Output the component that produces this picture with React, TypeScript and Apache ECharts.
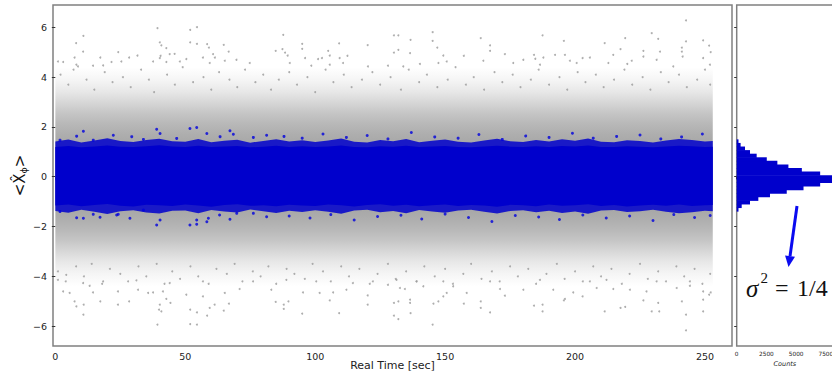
import React, { useEffect, useRef } from "react";
import * as echarts from "echarts";

// ---------- data ----------
const xTicks = [0, 50, 100, 150, 200, 250];
const yTicks = [-6, -4, -2, 0, 2, 4, 6];
const histTicks = [0, 2500, 5000, 7500];

// sample times for band envelopes (sec)
const bandTimes = [
  0, 5, 10, 15, 20, 25, 30, 35, 40, 45,
  50, 55, 60, 65, 70, 75, 80, 85, 90, 95,
  100, 105, 110, 115, 120, 125, 130, 135, 140, 145,
  150, 155, 160, 165, 170, 175, 180, 185, 190, 195,
  200, 205, 210, 215, 220, 225, 230, 235, 240, 245,
  250, 253,
];

// dense blue (squeezed) core edges
const blueCoreUpper = [
  1.20, 1.24, 1.18, 1.22, 1.26, 1.21, 1.19, 1.23, 1.27, 1.22,
  1.20, 1.25, 1.19, 1.22, 1.24, 1.18, 1.21, 1.25, 1.20, 1.23,
  1.19, 1.22, 1.26, 1.20, 1.18, 1.23, 1.21, 1.25, 1.19, 1.22,
  1.24, 1.20, 1.18, 1.22, 1.25, 1.21, 1.19, 1.23, 1.20, 1.24,
  1.22, 1.26, 1.20, 1.19, 1.23, 1.21, 1.18, 1.22, 1.25, 1.23,
  1.20, 1.21,
];
const blueCoreLower = [
  -1.16, -1.12, -1.19, -1.14, -1.10, -1.17, -1.20, -1.13, -1.15, -1.18,
  -1.12, -1.16, -1.21, -1.14, -1.11, -1.17, -1.15, -1.19, -1.13, -1.16,
  -1.18, -1.12, -1.15, -1.20, -1.14, -1.11, -1.17, -1.13, -1.19, -1.15,
  -1.12, -1.18, -1.14, -1.16, -1.21, -1.13, -1.15, -1.19, -1.12, -1.17,
  -1.15, -1.11, -1.18, -1.14, -1.20, -1.16, -1.13, -1.17, -1.12, -1.18,
  -1.15, -1.14,
];
const blueFringeUpper = [
  1.42, 1.50, 1.38, 1.46, 1.55, 1.44, 1.40, 1.48, 1.53, 1.43,
  1.41, 1.52, 1.39, 1.45, 1.49, 1.37, 1.44, 1.51, 1.42, 1.47,
  1.40, 1.46, 1.54, 1.41, 1.38, 1.48, 1.43, 1.52, 1.39, 1.45,
  1.50, 1.41, 1.38, 1.46, 1.53, 1.43, 1.40, 1.48, 1.42, 1.51,
  1.45, 1.54, 1.41, 1.39, 1.47, 1.44, 1.38, 1.46, 1.52, 1.48,
  1.42, 1.44,
];
const blueFringeLower = [
  -1.38, -1.45, -1.33, -1.41, -1.50, -1.39, -1.35, -1.44, -1.48, -1.37,
  -1.36, -1.47, -1.34, -1.40, -1.44, -1.32, -1.39, -1.46, -1.37, -1.42,
  -1.35, -1.41, -1.49, -1.36, -1.33, -1.43, -1.38, -1.47, -1.34, -1.40,
  -1.45, -1.36, -1.33, -1.41, -1.48, -1.38, -1.35, -1.43, -1.37, -1.46,
  -1.40, -1.49, -1.36, -1.34, -1.42, -1.39, -1.33, -1.41, -1.47, -1.43,
  -1.37, -1.39,
];

// outer envelope of the grey (vacuum) cloud
const grayEnvelopeTimes = [0, 253];
const grayEnvelopeUpper = [4.4, 4.4];
const grayEnvelopeLower = [-4.4, -4.4];

// grey points in the thinning part of the cloud [time, value]
const grayMidTop = [
  [2, 4.1], [5, 3.7], [7, 4.3], [12, 3.9], [15, 3.5], [19, 4.2], [22, 3.8], [26, 4.0], [29, 3.6], [33, 4.3],
  [36, 3.9], [38, 3.4], [43, 4.1], [46, 3.7], [49, 4.4], [53, 3.8], [57, 4.0], [60, 3.5], [63, 4.2], [67, 3.9],
  [70, 3.6], [73, 4.3], [77, 3.8], [80, 4.1], [83, 3.5], [86, 3.9], [90, 4.2], [93, 3.7], [97, 4.0], [100, 3.4],
  [104, 4.3], [107, 3.8], [111, 4.1], [114, 3.6], [118, 3.9], [122, 4.2], [125, 3.7], [129, 4.0], [133, 3.5], [136, 4.3],
  [140, 3.8], [143, 4.1], [147, 3.6], [151, 3.9], [154, 4.4], [158, 3.7], [161, 4.0], [165, 3.5], [169, 4.2], [172, 3.8],
  [176, 4.1], [179, 3.6], [183, 3.9], [186, 4.3], [190, 3.7], [194, 4.0], [197, 3.5], [201, 4.2], [204, 3.8], [208, 4.1],
  [211, 3.6], [215, 3.9], [219, 4.3], [222, 3.7], [226, 4.0], [229, 3.5], [233, 4.2], [236, 3.8], [240, 4.1], [243, 3.6],
  [247, 3.9], [250, 4.3], [252, 3.7],
];
const grayMidBottom = [
  [1, -3.8], [4, -4.2], [8, -3.6], [11, -4.0], [14, -3.5], [18, -4.3], [21, -3.7], [25, -3.9], [28, -4.2], [32, -3.6],
  [35, -4.0], [39, -3.5], [42, -4.3], [45, -3.8], [48, -4.1], [52, -3.6], [55, -4.0], [59, -4.3], [62, -3.7], [66, -3.9],
  [69, -3.5], [72, -4.2], [76, -3.8], [79, -4.0], [82, -3.6], [85, -4.3], [89, -3.7], [92, -3.9], [96, -4.1], [99, -3.5],
  [103, -3.8], [106, -4.2], [110, -3.6], [113, -4.0], [117, -3.7], [121, -4.3], [124, -3.9], [128, -3.5], [131, -4.1], [135, -3.8],
  [139, -4.2], [142, -3.6], [146, -4.0], [150, -3.7], [153, -4.3], [157, -3.9], [160, -3.5], [164, -4.1], [168, -3.8], [171, -4.2],
  [175, -3.6], [178, -4.0], [182, -3.7], [185, -4.3], [189, -3.9], [193, -3.5], [196, -4.1], [200, -3.8], [203, -4.2], [207, -3.6],
  [210, -4.0], [214, -3.7], [218, -4.3], [221, -3.9], [225, -3.5], [228, -4.1], [232, -3.8], [235, -4.2], [239, -3.6], [242, -4.0],
  [246, -3.7], [249, -4.3], [252, -3.9],
];

// sparse grey points [time, value]
const grayOutliersTop = [
  [39.3, 5.97], [51.9, 5.9], [54.5, 6.01], [10.8, 5.66], [8.0, 5.37], [40.2, 5.4], [40.8, 5.28], [51.9, 5.4], [54.5, 5.34],
  [87.7, 5.7], [95.0, 5.34], [95.0, 5.14], [109.2, 5.36], [120.2, 5.29], [10.7, 5.03], [24.2, 5.01], [42.7, 5.17], [58.4, 5.33],
  [59.1, 5.19], [64.8, 5.3], [66.7, 5.03], [84.8, 5.06], [87.4, 5.13], [88.4, 4.99], [105.0, 5.06], [105.6, 4.87], [7.4, 4.79],
  [17.3, 4.79], [28.4, 4.79], [31.6, 4.87], [40.5, 4.86], [40.2, 4.77], [44.0, 4.93], [45.9, 4.94], [50.4, 4.73], [56.8, 4.79],
  [60.7, 4.93], [61.4, 4.79], [69.7, 4.7], [89.4, 4.87], [96.1, 4.77], [101.1, 4.73], [102.6, 4.77], [109.4, 4.77], [112.4, 4.86],
  [1.0, 4.63], [3.0, 4.61], [8.1, 4.5], [8.7, 4.43], [14.5, 4.46], [18.4, 4.47], [21.6, 4.61], [25.4, 4.63], [37.6, 4.63],
  [42.7, 4.61], [47.9, 4.63], [59.4, 4.57], [65.2, 4.66], [74.8, 4.57], [90.2, 4.57], [98.5, 4.46], [105.6, 4.5], [110.7, 4.57],
  [120.3, 4.43], [128.0, 4.46],
  [130.3, 5.68], [132.0, 5.68], [136.7, 5.5], [145.2, 5.81], [145.2, 5.46], [147.0, 5.19], [130.3, 4.99], [132.0, 5.1], [136.5, 4.97],
  [163.7, 5.57], [167.3, 5.28], [167.3, 5.06], [187.5, 5.68], [195.7, 5.46], [211.4, 5.37], [217.5, 5.13], [219.3, 5.57], [229.5, 5.77],
  [232.0, 5.54], [242.7, 6.28], [242.7, 5.44], [249.3, 5.48], [251.6, 5.27], [241.1, 5.19], [241.1, 5.03], [241.4, 4.83], [232.7, 5.03],
  [226.3, 5.06], [149.3, 4.87], [157.2, 4.86], [173.0, 4.93], [184.2, 4.9], [184.7, 4.74], [187.8, 4.79], [192.3, 4.9], [196.1, 4.9],
  [198.0, 4.66], [202.9, 4.77], [205.7, 4.79], [214.7, 4.9], [221.8, 4.66], [226.3, 4.83], [231.4, 4.7], [249.3, 4.77], [252.2, 5.01],
  [251.9, 4.5], [150.6, 4.63], [147.4, 4.57], [164.7, 4.66], [180.1, 4.7], [140.3, 4.53], [133.9, 4.43], [176.2, 4.57], [186.5, 4.5],
  [200.6, 4.57], [212.8, 4.57], [237.8, 4.43], [220.1, 4.53],
];
const grayOutliersBottom = [
  [39.3, -5.94], [51.9, -5.92], [54.5, -5.94], [10.8, -5.54], [7.4, -5.01], [8.1, -5.21], [10.9, -5.14], [17.3, -5.01], [24.1, -5.14],
  [28.4, -5.01], [40.2, -5.14], [39.9, -5.34], [40.8, -5.41], [42.7, -4.91], [44.3, -5.07], [51.9, -5.34], [54.5, -5.45], [58.4, -5.58],
  [59.4, -5.27], [61.3, -5.14], [64.8, -5.38], [66.8, -5.1], [84.8, -5.03], [87.9, -5.14], [87.9, -5.31], [89.7, -5.01], [95.0, -5.5],
  [105.6, -4.97], [109.2, -5.48], [120.2, -4.77], [120.2, -5.14], [3.0, -4.61], [5.5, -4.67], [13.2, -4.38], [14.5, -4.65], [24.1, -4.61],
  [31.8, -4.54], [35.7, -4.67], [37.6, -4.65], [41.4, -4.61], [50.4, -4.74], [56.8, -4.81], [65.2, -4.67], [70.9, -4.51], [83.1, -4.54],
  [95.3, -4.65], [101.7, -4.67], [106.9, -4.65], [112.0, -4.54], [128.0, -4.34], [1.0, -4.14], [10.7, -4.27], [4.2, -3.94], [18.4, -4.2],
  [31.2, -4.16], [44.0, -4.27], [56.8, -4.2], [76.1, -4.2], [88.9, -4.14], [100.4, -4.2], [114.5, -4.27], [122.2, -4.2],
  [130.3, -5.07], [132.0, -5.01], [130.3, -5.58], [132.0, -5.72], [136.5, -4.94], [136.5, -5.07], [136.7, -5.48], [145.2, -5.94],
  [145.5, -5.1], [147.4, -5.01], [149.3, -4.81], [157.2, -5.1], [163.7, -5.01], [163.7, -5.27], [167.3, -5.45], [173.0, -4.78],
  [184.2, -5.18], [187.5, -5.14], [187.5, -5.41], [195.7, -4.97], [196.1, -4.91], [202.9, -4.81], [211.4, -5.41], [217.5, -5.27],
  [219.3, -5.23], [226.3, -4.97], [229.5, -5.41], [232.0, -5.07], [232.4, -5.41], [241.1, -5.01], [242.7, -5.54], [242.7, -6.17],
  [249.3, -5.41], [249.3, -4.94], [252.2, -4.65], [251.6, -4.74], [132.6, -4.47], [134.5, -4.51], [141.6, -4.4], [150.6, -4.67],
  [153.1, -4.4], [158.3, -4.67], [171.1, -4.51], [180.1, -4.54], [191.6, -4.54], [199.3, -4.65], [208.3, -4.47], [214.7, -4.51],
  [221.1, -4.54], [227.5, -4.61], [239.1, -4.47], [244.2, -4.38], [249.3, -4.61], [131.3, -4.14], [139.0, -4.2], [149.3, -4.2],
  [167.3, -4.2], [186.5, -4.14], [205.7, -4.2], [212.1, -4.14], [231.4, -4.2], [244.2, -4.2],
];

// scattered blue points on the edges of the squeezed band
const blueEdgePoints = [
  [10.8, 1.83], [8.2, 1.63], [22.3, 1.67], [29.4, 1.61], [39.0, 1.91], [40.3, 1.74], [51.8, 1.94], [54.4, 1.98], [58.3, 1.74],
  [63.4, 1.61], [68.5, 1.71], [76.2, 1.58], [81.3, 1.67], [1.8, 1.47], [14.6, 1.47], [33.9, 1.5], [46.7, 1.54], [67.2, 1.85],
  [88, 1.62], [95, 1.55], [103, 1.72], [112, 1.58], [120, 1.66], [128, 1.52], [137, 1.78], [146, 1.6], [155, 1.55], [163, 1.7],
  [172, 1.5], [181, 1.64], [190, 1.58], [199, 1.75], [207, 1.55], [216, 1.62], [225, 1.68], [233, 1.52], [241, 1.6], [249, 1.72],
  [10.8, -1.67], [17.2, -1.63], [28.7, -1.67], [39.0, -1.94], [40.3, -1.74], [51.8, -1.94], [54.4, -1.74], [58.9, -1.67],
  [63.2, -1.54], [69.8, -1.47], [23.6, -1.54], [33.9, -1.34], [1.8, -1.4], [8.2, -1.65], [14.6, -1.51], [24.2, -1.51],
  [54.4, -1.91], [58.3, -1.81], [67.2, -1.71], [76.2, -1.47], [81.3, -1.61],
  [90, -1.58], [98, -1.66], [106, -1.52], [115, -1.74], [124, -1.6], [133, -1.55], [141, -1.7], [150, -1.5], [159, -1.64],
  [168, -1.8], [177, -1.56], [186, -1.62], [194, -1.72], [203, -1.54], [212, -1.66], [221, -1.58], [230, -1.76], [238, -1.52],
  [246, -1.64], [252, -1.56],
];

// histogram (right panel): bin edges on the quadrature axis and counts per bin
const histBinEdges = [-1.39, -1.246, -1.102, -0.958, -0.814, -0.67, -0.526, -0.382, -0.238, -0.094, 0.05, 0.194, 0.338, 0.482, 0.626, 0.77, 0.914, 1.058, 1.202, 1.346, 1.49];
const histCounts = [150, 420, 1120, 1820, 2800, 4210, 5620, 7020, 8400, 8500, 7020, 5480, 4350, 3420, 2530, 1680, 1120, 700, 330, 150];

// ---------- chart ----------
const FONT = "DejaVu Sans";
const minusFmt = (v: number) => String(v).replace("-", "\u2212");

function bandSeries(name: string, times: number[], upper: number[], lower: number[], fill: any, z: number) {
  return {
    name,
    type: "custom",
    xAxisIndex: 0,
    yAxisIndex: 0,
    silent: true,
    z,
    data: [[times[0], 0]],
    encode: { x: 0, y: 1 },
    renderItem: (_params: any, api: any) => {
      const pts: number[][] = [];
      times.forEach((t, i) => pts.push(api.coord([t, upper[i]])));
      for (let i = times.length - 1; i >= 0; i--) pts.push(api.coord([times[i], lower[i]]));
      return { type: "polygon", shape: { points: pts }, style: { fill } };
    },
  };
}

export default function App() {
  const ref = useRef<HTMLDivElement>(null);

  useEffect(() => {
    document.body.style.margin = "0";
    if (!ref.current) return;
    const chart = echarts.init(ref.current, null, { renderer: "svg" });

    const g = (a: number) => `rgba(150,150,150,${a})`;
    const grayFill = new echarts.graphic.LinearGradient(0, 0, 0, 1, [
      { offset: 0, color: g(0) },
      { offset: 0.06, color: g(0.1) },
      { offset: 0.11, color: g(0.22) },
      { offset: 0.16, color: g(0.38) },
      { offset: 0.21, color: g(0.55) },
      { offset: 0.26, color: g(0.68) },
      { offset: 0.31, color: g(0.78) },
      { offset: 0.36, color: g(0.85) },
      { offset: 0.5, color: g(0.88) },
      { offset: 0.64, color: g(0.85) },
      { offset: 0.69, color: g(0.78) },
      { offset: 0.74, color: g(0.68) },
      { offset: 0.79, color: g(0.55) },
      { offset: 0.84, color: g(0.38) },
      { offset: 0.89, color: g(0.22) },
      { offset: 0.94, color: g(0.1) },
      { offset: 1, color: g(0) },
    ]);

    const histData = histCounts.map((c, i) => [histBinEdges[i], histBinEdges[i + 1], c]);

    // arrow geometry (annotation)
    const tip = [788.5, 267];
    const tail = [797, 206];
    const dx = tip[0] - tail[0];
    const dy = tip[1] - tail[1];
    const len = Math.hypot(dx, dy);
    const ux = dx / len, uy = dy / len;
    const headLen = 11, headHalf = 5;
    const bx = tip[0] - ux * headLen, by = tip[1] - uy * headLen;

    const axisLabelStyle = { fontFamily: FONT, color: "#222" };

    chart.setOption({
      animation: false,
      backgroundColor: "#fff",
      grid: [
        { left: 53, top: 5, width: 679, height: 341, show: true, borderColor: "#808080", borderWidth: 1.5, backgroundColor: "transparent", outerBoundsMode: "none", containLabel: false },
        { left: 736.7, top: 5, width: 96.3, height: 341, show: true, borderColor: "#808080", borderWidth: 1.5, backgroundColor: "transparent", outerBoundsMode: "none", containLabel: false },
      ],
      xAxis: [
        {
          type: "value", gridIndex: 0, min: -0.9, max: 260.4,
          axisLine: { show: false }, splitLine: { show: false },
          axisTick: { show: true, length: 3.5, lineStyle: { color: "#333" }, customValues: xTicks },
          axisLabel: { ...axisLabelStyle, fontSize: 9.5, margin: 5, customValues: xTicks, formatter: minusFmt },
          name: "Real Time [sec]", nameLocation: "middle", nameGap: 14, nameMoveOverlap: false,
          nameTextStyle: { fontFamily: FONT, fontSize: 11, color: "#222" },
        },
        {
          type: "value", gridIndex: 1, min: 0, max: 8100,
          axisLine: { show: false }, splitLine: { show: false },
          axisTick: { show: true, length: 2.5, lineStyle: { color: "#333" }, customValues: histTicks },
          axisLabel: { ...axisLabelStyle, fontSize: 5.8, margin: 5, customValues: histTicks, formatter: (v: number) => String(v) },
          name: "Counts", nameLocation: "middle", nameGap: 14, nameMoveOverlap: false,
          nameTextStyle: { fontFamily: FONT, fontSize: 6.5, fontStyle: "italic", color: "#222" },
        },
      ],
      yAxis: [
        {
          type: "value", gridIndex: 0, min: -6.8, max: 6.9,
          axisLine: { show: false }, splitLine: { show: false },
          axisTick: { show: true, length: 3.5, lineStyle: { color: "#333" }, customValues: yTicks },
          axisLabel: { ...axisLabelStyle, fontSize: 9.5, margin: 6, customValues: yTicks, formatter: minusFmt },
          name: "<{x|X̂}{s|ϕ}>", nameLocation: "middle", nameGap: 25, nameRotate: 90, nameMoveOverlap: false,
          nameTextStyle: {
            fontFamily: FONT, fontSize: 15, color: "#111",
            rich: {
              x: { fontFamily: FONT, fontSize: 15, color: "#111" },
              s: { fontFamily: FONT, fontSize: 9.5, color: "#111", padding: [6, 0, 0, 0] },
            },
          },
        },
        {
          type: "value", gridIndex: 1, min: -6.8, max: 6.9,
          axisLine: { show: false }, splitLine: { show: false },
          axisTick: { show: true, length: 2.5, lineStyle: { color: "#333" }, customValues: yTicks },
          axisLabel: { show: false },
        },
      ],
      series: [
        bandSeries("grayCloud", grayEnvelopeTimes, grayEnvelopeUpper, grayEnvelopeLower, grayFill, 1),
        {
          name: "grayPoints", type: "scatter", xAxisIndex: 0, yAxisIndex: 0, silent: true, z: 2,
          symbol: "circle", symbolSize: 2,
          itemStyle: { color: "#9a9a9a" },
          data: [...grayMidTop, ...grayMidBottom, ...grayOutliersTop, ...grayOutliersBottom],
        },
        bandSeries("blueFringe", bandTimes, blueFringeUpper, blueFringeLower, "rgba(0,0,204,0.85)", 3),
        bandSeries("blueCore", bandTimes, blueCoreUpper, blueCoreLower, "#0000cc", 4),
        {
          name: "blueEdge", type: "scatter", xAxisIndex: 0, yAxisIndex: 0, silent: true, z: 5,
          symbol: "circle", symbolSize: 3,
          itemStyle: { color: "#0000dd" },
          data: blueEdgePoints,
        },
        {
          name: "histogram", type: "custom", xAxisIndex: 1, yAxisIndex: 1, silent: true, z: 5,
          dimensions: ["y0", "y1", "count"],
          encode: { x: 2, y: [0, 1] },
          data: histData,
          renderItem: (_params: any, api: any) => {
            const p0 = api.coord([0, api.value(0)]);
            const p1 = api.coord([api.value(2), api.value(1)]);
            return {
              type: "rect",
              shape: { x: p0[0], y: p1[1] - 0.3, width: p1[0] - p0[0], height: p0[1] - p1[1] + 0.6 },
              style: { fill: "#0000cc" },
            };
          },
        },
      ],
      graphic: [
        {
          type: "line", silent: true, z: 10,
          shape: { x1: tail[0], y1: tail[1], x2: bx, y2: by },
          style: { stroke: "#0a0af0", lineWidth: 3 },
        },
        {
          type: "polygon", silent: true, z: 10,
          shape: { points: [[tip[0], tip[1]], [bx - uy * headHalf, by + ux * headHalf], [bx + uy * headHalf, by - ux * headHalf]] },
          style: { fill: "#0a0af0" },
        },
        {
          type: "text", silent: true, z: 10, x: 746, y: 288,
          style: { text: "σ", font: "italic 25px 'Liberation Serif'", fill: "#111", verticalAlign: "middle", align: "left" },
        },
        {
          type: "text", silent: true, z: 10, x: 760.5, y: 278,
          style: { text: "2", font: "15px 'Liberation Serif'", fill: "#111", verticalAlign: "middle", align: "left" },
        },
        {
          type: "text", silent: true, z: 10, x: 775, y: 288,
          style: { text: "=", font: "24px 'Liberation Serif'", fill: "#111", verticalAlign: "middle", align: "left" },
        },
        {
          type: "text", silent: true, z: 10, x: 797, y: 288,
          style: { text: "1/4", font: "24px 'Liberation Serif'", fill: "#111", verticalAlign: "middle", align: "left" },
        },
      ],
    });

    return () => chart.dispose();
  }, []);

  return <div ref={ref} style={{ width: 832, height: 376 }} />;
}
